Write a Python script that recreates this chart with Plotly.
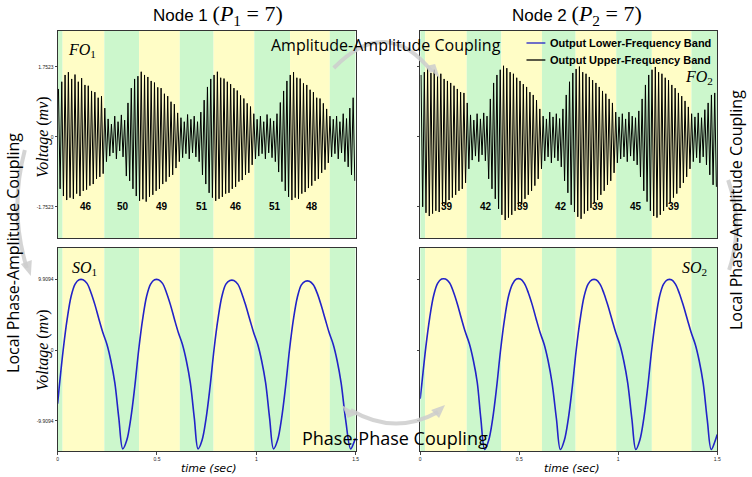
import numpy as np
import plotly.graph_objects as go

# ---- data ----
band_edges = [0, 0.025, 0.235, 0.41, 0.615, 0.785, 0.99, 1.17, 1.37, 1.5]
band_colors = ["#CCF7CC", "#FFFDC6"]  # green, yellow (alternating, starting green)

fo1_counts = [46, 50, 49, 51, 46, 51, 48]
fo1_count_t = [0.145, 0.33, 0.525, 0.725, 0.90, 1.095, 1.28]
fo2_counts = [39, 42, 39, 42, 39, 45, 39]
fo2_count_t = [0.135, 0.33, 0.52, 0.71, 0.90, 1.09, 1.28]

fo_rate = 120  # extrema per second (60 Hz carrier)

fo1_peaks = [1.20, 1.38, 1.55, 1.62, 1.45, 1.56, 1.38, 1.47, 1.30, 1.28,
             1.15, 1.12, 0.98, 1.02, 0.72, 0.45, 0.32, 0.52, 0.38, 0.55,
             0.42, 0.85, 1.22, 1.45, 1.52, 1.63, 1.55, 1.50, 1.40, 1.36,
             1.24, 1.22, 1.08, 1.02, 0.88, 0.82, 0.60, 0.48, 0.38, 0.56,
             0.44, 0.52, 0.38, 0.62, 0.92, 1.25, 1.45, 1.55, 1.63, 1.48,
             1.46, 1.38, 1.32, 1.22, 1.16, 1.04, 0.96, 0.84, 0.76, 0.58,
             0.44, 0.52, 0.38, 0.56, 0.46, 0.40, 0.58, 0.86, 1.15, 1.40,
             1.55, 1.62, 1.48, 1.46, 1.34, 1.30, 1.18, 1.12, 0.98, 0.96,
             0.84, 0.70, 0.52, 0.44, 0.52, 0.38, 0.58, 0.46, 0.72, 0.98]
fo1_troughs = [-1.30, -1.48, -1.58, -1.52, -1.55, -1.42, -1.48, -1.35, -1.32, -1.22,
               -1.18, -1.05, -1.00, -0.92, -0.62, -0.48, -0.40, -0.55, -0.35, -0.50,
               -0.98, -1.10, -1.30, -1.48, -1.60, -1.56, -1.62, -1.50, -1.45, -1.35,
               -1.30, -1.18, -1.12, -1.00, -0.95, -0.78, -0.62, -0.52, -0.42, -0.55,
               -0.40, -0.50, -0.62, -0.95, -1.18, -1.40, -1.52, -1.60, -1.55, -1.50,
               -1.42, -1.40, -1.30, -1.25, -1.12, -1.08, -0.95, -0.90, -0.70, -0.55,
               -0.48, -0.42, -0.55, -0.40, -0.52, -0.62, -0.88, -1.12, -1.35, -1.50,
               -1.58, -1.52, -1.55, -1.42, -1.38, -1.28, -1.22, -1.10, -1.05, -0.90,
               -0.82, -0.65, -0.50, -0.42, -0.55, -0.40, -0.62, -0.75, -0.95, -1.10]

fo2_peaks = [1.55, 1.62, 1.72, 1.60, 1.68, 1.52, 1.58, 1.45, 1.40, 1.35,
             1.28, 1.20, 1.12, 1.10, 0.85, 0.55, 0.42, 0.58, 0.45, 0.60,
             0.52, 0.95, 1.35, 1.55, 1.68, 1.78, 1.72, 1.62, 1.58, 1.48,
             1.40, 1.32, 1.25, 1.12, 1.05, 0.92, 0.70, 0.52, 0.45, 0.62,
             0.50, 0.58, 0.46, 0.70, 1.05, 1.38, 1.60, 1.70, 1.76, 1.62,
             1.58, 1.50, 1.42, 1.35, 1.25, 1.15, 1.08, 0.95, 0.85, 0.62,
             0.50, 0.58, 0.45, 0.62, 0.52, 0.48, 0.65, 0.95, 1.30, 1.55,
             1.68, 1.75, 1.62, 1.58, 1.48, 1.42, 1.30, 1.22, 1.10, 1.02,
             0.90, 0.75, 0.58, 0.50, 0.60, 0.48, 0.68, 0.85, 1.05, 1.10]
fo2_troughs = [-1.75, -1.90, -1.98, -1.92, -1.85, -1.88, -1.72, -1.70, -1.58, -1.52,
               -1.45, -1.35, -1.30, -1.15, -0.80, -0.58, -0.48, -0.62, -0.45, -0.60,
               -1.05, -1.30, -1.55, -1.80, -1.95, -2.08, -2.02, -1.95, -1.85, -1.75,
               -1.68, -1.55, -1.45, -1.35, -1.22, -1.05, -0.80, -0.60, -0.50, -0.65,
               -0.52, -0.60, -0.75, -1.10, -1.40, -1.70, -1.88, -2.00, -2.05, -1.92,
               -1.85, -1.78, -1.65, -1.58, -1.45, -1.35, -1.20, -1.10, -0.90, -0.65,
               -0.55, -0.50, -0.62, -0.48, -0.60, -0.70, -1.00, -1.35, -1.62, -1.85,
               -1.98, -2.02, -1.95, -1.85, -1.75, -1.65, -1.52, -1.42, -1.28, -1.15,
               -1.00, -0.80, -0.62, -0.52, -0.65, -0.50, -0.70, -0.95, -1.20, -1.25]

so1_t = [0, 0.008, 0.028, 0.048, 0.068, 0.088, 0.108, 0.128, 0.148, 0.168, 0.188,
         0.208, 0.228, 0.248, 0.268, 0.288, 0.308,
         0.328, 0.348, 0.368, 0.388, 0.408, 0.428, 0.448, 0.468, 0.488, 0.508,
         0.528, 0.548, 0.568, 0.588, 0.608, 0.628, 0.648, 0.668, 0.688,
         0.707, 0.727, 0.747, 0.767, 0.787, 0.807, 0.827, 0.847, 0.867, 0.887,
         0.907, 0.927, 0.947, 0.967, 0.987, 1.007, 1.027, 1.047, 1.067,
         1.087, 1.107, 1.127, 1.147, 1.167, 1.187, 1.207, 1.227, 1.247, 1.267,
         1.287, 1.307, 1.327, 1.347, 1.367, 1.387, 1.407, 1.427, 1.450,
         1.475, 1.490, 1.500]
so1_v = [-7.5, -5.2, 0.0, 4.3, 7.5, 9.2, 9.8, 9.8, 9.3, 8.0, 6.3,
         4.3, 2.4, 0.8, -1.5, -4.6, -9.5,
         -13.8, -12.6, -9.6, -5.2, 0.0, 4.3, 7.5, 9.2, 9.8, 9.8,
         9.3, 8.0, 6.3, 4.3, 2.4, 0.8, -1.5, -4.6, -9.5,
         -13.8, -12.6, -9.6, -5.2, 0.0, 4.3, 7.5, 9.2, 9.7, 9.7,
         9.2, 7.9, 6.2, 4.3, 2.4, 0.8, -1.5, -4.6, -9.5,
         -13.8, -12.6, -9.6, -5.2, 0.0, 4.3, 7.4, 9.1, 9.6, 9.6,
         9.1, 7.9, 6.2, 4.3, 2.4, 0.8, -1.5, -4.6, -9.8,
         -13.8, -13.0, -12.3]

so2_t = [0, 0.008, 0.028, 0.048, 0.068, 0.088, 0.108, 0.128, 0.148, 0.168, 0.188,
         0.208, 0.228, 0.248, 0.268, 0.288, 0.306,
         0.326, 0.346, 0.366, 0.386, 0.406, 0.426, 0.446, 0.466, 0.486, 0.506,
         0.526, 0.546, 0.566, 0.586, 0.606, 0.626, 0.646, 0.666, 0.688,
         0.708, 0.728, 0.748, 0.768, 0.788, 0.808, 0.828, 0.848, 0.868, 0.888,
         0.908, 0.928, 0.948, 0.968, 0.988, 1.008, 1.028, 1.048, 1.069,
         1.089, 1.109, 1.129, 1.149, 1.169, 1.189, 1.209, 1.229, 1.249, 1.269,
         1.289, 1.309, 1.329, 1.349, 1.369, 1.389, 1.409, 1.429, 1.450,
         1.470, 1.488, 1.500]
so2_v = [-6.8, -4.8, 0.3, 4.5, 7.6, 9.3, 9.9, 9.9, 9.4, 8.1, 6.4,
         4.4, 2.5, 0.9, -1.4, -4.5, -9.5,
         -13.9, -12.6, -9.6, -5.2, 0.0, 4.3, 7.5, 9.2, 9.9, 9.9,
         9.3, 8.0, 6.3, 4.3, 2.4, 0.8, -1.5, -4.6, -9.6,
         -13.9, -12.6, -9.6, -5.2, 0.0, 4.3, 7.5, 9.2, 9.8, 9.8,
         9.2, 7.9, 6.2, 4.3, 2.4, 0.8, -1.5, -4.6, -9.6,
         -13.9, -12.6, -9.6, -5.2, 0.0, 4.3, 7.5, 9.2, 9.8, 9.8,
         9.2, 7.9, 6.2, 4.3, 2.4, 0.8, -1.5, -4.6, -9.8,
         -13.9, -12.8, -11.8]

fo_ticks = [-1.7523, 0, 1.7523]
fo_ticktext = ["-1.7523", "0", "1.7523"]
so_ticks = [-9.9094, 0, 9.9094]
so_ticktext = ["-9.9094", "0", "9.9094"]
time_ticks = [0, 0.5, 1, 1.5]
time_ticktext = ["0", "0.5", "1", "1.5"]

W, H = 752, 477


def px(x):
    return x / W


def py(y):
    return 1 - y / H


def interleave(a, b):
    out = []
    for p, q in zip(a, b):
        out += [p, q]
    return out


fo_t = (np.arange(2 * len(fo1_peaks)) + 0.5) / fo_rate
fo1 = interleave(fo1_peaks, fo1_troughs)
fo2 = interleave(fo2_peaks, fo2_troughs)

BLUE = "#2222C8"
fig = go.Figure()
fig.add_trace(go.Scatter(x=so1_t, y=so1_v, mode="lines", line=dict(color=BLUE, width=1.6, shape="spline"),
                         name="Output Lower-Frequency Band", xaxis="x3", yaxis="y3"))
fig.add_trace(go.Scatter(x=fo_t, y=fo1, mode="lines", line=dict(color="black", width=1.0),
                         name="Output Upper-Frequency Band", xaxis="x", yaxis="y"))
fig.add_trace(go.Scatter(x=fo_t, y=fo2, mode="lines", line=dict(color="black", width=1.0),
                         xaxis="x2", yaxis="y2"))
fig.add_trace(go.Scatter(x=so2_t, y=so2_v, mode="lines", line=dict(color=BLUE, width=1.6, shape="spline"),
                         xaxis="x4", yaxis="y4"))

# panel geometry in pixels
left_x = [57, 357]
right_x = [422, 721]
top_y = [31, 238]
bot_y = [248, 451]

frame = dict(showline=True, mirror=True, linecolor="#333", linewidth=1,
             showgrid=False, zeroline=False)
tickfont = dict(family="Liberation Sans", size=5, color="#222")

fig.update_layout(
    xaxis=dict(domain=[px(left_x[0]), px(left_x[1])], range=[0, 1.5], anchor="y",
               showticklabels=False, ticks="", **frame),
    yaxis=dict(domain=[py(top_y[1]), py(top_y[0])], range=[-2.53, 2.65], anchor="x",
               tickvals=fo_ticks, ticktext=fo_ticktext, ticks="outside", ticklen=2,
               tickfont=tickfont, **frame),
    xaxis2=dict(domain=[px(right_x[0]), px(right_x[1])], range=[0, 1.5], anchor="y2",
                showticklabels=False, ticks="", **frame),
    yaxis2=dict(domain=[py(top_y[1]), py(top_y[0])], range=[-2.53, 2.65], anchor="x2",
                tickvals=fo_ticks, showticklabels=False, ticks="outside", ticklen=2, **frame),
    xaxis3=dict(domain=[px(left_x[0]), px(left_x[1])], range=[0, 1.5], anchor="y3",
                tickvals=time_ticks, ticktext=time_ticktext, ticks="outside", ticklen=3,
                tickfont=tickfont, **frame),
    yaxis3=dict(domain=[py(bot_y[1]), py(bot_y[0])], range=[-14.1, 14.24], anchor="x3",
                tickvals=so_ticks, ticktext=so_ticktext, ticks="outside", ticklen=2,
                tickfont=tickfont, **frame),
    xaxis4=dict(domain=[px(right_x[0]), px(right_x[1])], range=[0, 1.5], anchor="y4",
                tickvals=time_ticks, ticktext=time_ticktext, ticks="outside", ticklen=3,
                tickfont=tickfont, **frame),
    yaxis4=dict(domain=[py(bot_y[1]), py(bot_y[0])], range=[-14.1, 14.24], anchor="x4",
                tickvals=so_ticks, showticklabels=False, ticks="outside", ticklen=2, **frame),
)

# coloured phase bands
shapes = []
for ax in ["", "2", "3", "4"]:
    for i in range(len(band_edges) - 1):
        shapes.append(dict(type="rect", xref="x" + ax, yref="y" + ax + " domain",
                           x0=band_edges[i], x1=band_edges[i + 1], y0=0, y1=1,
                           fillcolor=band_colors[i % 2], line=dict(width=0), layer="below"))

GREY = "rgba(205,205,205,0.85)"


def arc(x0, y0, cx, cy, x1, y1):
    return dict(type="path", xref="paper", yref="paper", layer="above",
                path=f"M {px(x0)},{py(y0)} Q {px(cx)},{py(cy)} {px(x1)},{py(y1)}",
                line=dict(color=GREY, width=4))


def head(pts):
    d = "M " + " L ".join(f"{px(a)},{py(b)}" for a, b in pts) + " Z"
    return dict(type="path", xref="paper", yref="paper", layer="above", path=d,
                fillcolor=GREY, line=dict(width=0))


def seg(x0, y0, x1, y1, color):
    return dict(type="line", xref="paper", yref="paper", x0=px(x0), y0=py(y0),
                x1=px(x1), y1=py(y1), line=dict(color=color, width=1.3))


shapes += [
    arc(335, 68, 388, 14, 434, 72),
    head([(428, 66), (442, 79), (437, 64)]),
    arc(352, 410, 396, 436, 440, 412),
    head([(433, 410), (447, 405), (441, 418)]),
    head([(359, 414), (343, 405), (349, 418)]),
    arc(24, 150, 8, 210, 26, 268),
    head([(20, 264), (30, 276), (31, 260)]),
    arc(733, 270, 748, 225, 732, 180),
    # legend samples
    seg(529, 43, 548, 43, BLUE),
    seg(529, 60, 548, 60, "black"),
]
fig.update_layout(shapes=shapes)

ann = []
serif = "Liberation Serif"
sans = "Liberation Sans"


def note(x, y, text, size, family=sans, angle=0, color="black", xanchor="center"):
    ann.append(dict(x=px(x), y=py(y), xref="paper", yref="paper", text=text, showarrow=False,
                    font=dict(family=family, size=size, color=color), textangle=angle,
                    xanchor=xanchor, yanchor="middle"))


math = "<span style='font-family:Liberation Serif;font-size:22px'>"
note(218, 15, "Node 1 " + math + "(<i>P</i><sub>1</sub> = 7)</span>", 17)
note(580, 15, "Node 2 " + math + "(<i>P</i><sub>2</sub> = 7)</span>", 17)
note(82, 50, "<i>FO</i><sub>1</sub>", 16, serif)
note(703, 78, "<i>FO</i><sub>2</sub>", 16, serif)
note(84, 268, "<i>SO</i><sub>1</sub>", 16, serif)
note(698, 268, "<i>SO</i><sub>2</sub>", 16, serif)
note(42, 137, "<i>Voltage</i> (<i>mv</i>)", 16, serif, angle=-90)
note(42, 350, "<i>Voltage</i> (<i>mv</i>)", 16, serif, angle=-90)
note(209, 468, "<i>time (sec)</i>", 11, "DejaVu Sans")
note(574, 468, "<i>time (sec)</i>", 11, "DejaVu Sans")
note(12, 253, "Local Phase-Amplitude Coupling", 16, "Open Sans", angle=-90)
note(740, 210, "Local Phase-Amplitude Coupling", 16, "Open Sans", angle=-90)
note(388, 45, "Amplitude-Amplitude Coupling", 16, "Open Sans")
note(397, 438, "Phase-Phase Coupling", 18, "Open Sans")
note(551, 43, "<b>Output Lower-Frequency Band</b>", 11, sans, xanchor="left")
note(551, 60, "<b>Output Upper-Frequency Band</b>", 11, sans, xanchor="left")

for n, t in zip(fo1_counts, fo1_count_t):
    ann.append(dict(x=t, y=-1.7523, xref="x", yref="y", text=f"<b>{n}</b>", showarrow=False,
                    font=dict(family=sans, size=10, color="black")))
for n, t in zip(fo2_counts, fo2_count_t):
    ann.append(dict(x=t, y=-1.7523, xref="x2", yref="y2", text=f"<b>{n}</b>", showarrow=False,
                    font=dict(family=sans, size=10, color="black")))

fig.update_layout(
    annotations=ann,
    width=W, height=H,
    margin=dict(l=0, r=0, t=0, b=0),
    paper_bgcolor="white", plot_bgcolor="white",
    showlegend=False,
)

fig.write_html("out.html", config={"displayModeBar": False},
               post_script="document.body.style.margin='0px';")
